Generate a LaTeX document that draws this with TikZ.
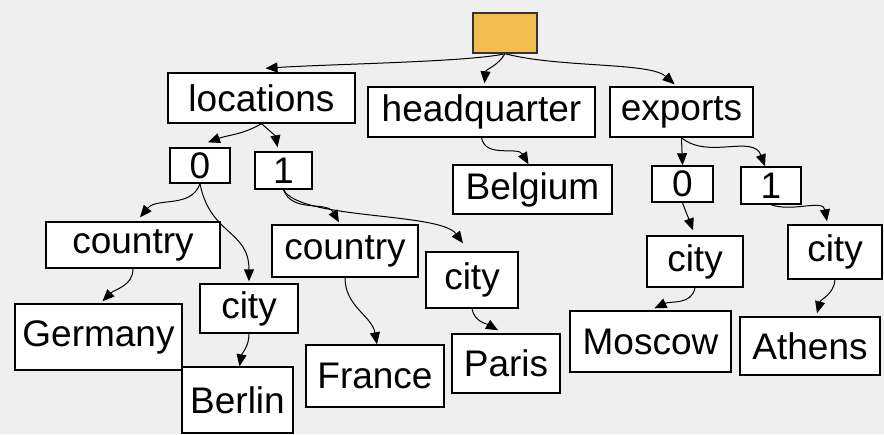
\documentclass[tikz,border=0pt]{standalone}
\usepackage{fontspec}
\setmainfont{Liberation Sans}
\usetikzlibrary{arrows.meta,backgrounds}
\definecolor{paper}{RGB}{240,239,239}
\definecolor{rootfill}{RGB}{242,189,78}
\tikzset{
  x=1pt, y=1pt,
  box/.style={draw=black, line width=1.4pt, fill=white, inner sep=0pt,
    font=\fontsize{37}{40}\selectfont},
  rootbox/.style={draw=black!80, line width=1.4pt, fill=rootfill, inner sep=0pt},
  link/.style={draw=black, line width=1pt, -{Triangle[length=12pt,width=10pt]}},
}
\newcommand{\bx}[6]{% name, x1, y1, x2, y2, text (image-style coordinates)
  \node[box, minimum width={#4-#2}, minimum height={#5-#3}]
    (#1) at ({(#2+#4)/2}, {-(#3+#5)/2}) {#6};}
\begin{document}
\begin{tikzpicture}
  \useasboundingbox (0,0) rectangle (884,-434);
  % root object
  \node[rootbox, minimum width=64, minimum height=40] (root) at (505,-33) {};
  % first level
  \bx{locations}{168}{73}{355}{123}{locations}
  \bx{hq}{368}{87}{595}{137}{headquarter}
  \bx{exports}{610}{87}{753}{137}{exports}
  % array indices
  \bx{lzero}{170}{148}{230}{183}{0}
  \bx{lone}{255}{152}{312}{189}{1}
  \bx{belgium}{453}{165}{612}{214}{Belgium}
  \bx{ezero}{652}{166}{713}{202}{0}
  \bx{eone}{741}{167}{801}{204}{1}
  % keys of the array entries
  \bx{countryA}{46}{222}{220}{268}{country}
  \bx{countryB}{272}{225}{418}{277}{country}
  \bx{cityB}{426}{252}{518}{308}{city}
  \bx{cityC}{647}{236}{743}{287}{city}
  \bx{cityD}{788}{225}{882}{279}{city}
  \bx{cityA}{200}{284}{298}{333}{city}
  % leaf values
  \bx{germany}{15}{304}{182}{370}{Germany}
  \bx{berlin}{182}{367}{293}{433}{Berlin}
  \bx{france}{306}{345}{444}{407}{France}
  \bx{paris}{452}{334}{560}{393}{Paris}
  \bx{moscow}{570}{311}{731}{372}{Moscow}
  \bx{athens}{740}{317}{880}{375}{Athens}
  \begin{scope}[on background layer]
    \fill[paper] (0,0) rectangle (884,-434);
    % root to its members
    \draw[link] (root.south) .. controls (470,-62) and (330,-64) .. ([xshift=4pt,yshift=4pt]locations.north);
    \draw[link] (root.south) to[out=240,in=85] ([xshift=3pt,yshift=3pt]hq.north);
    \draw[link] (root.south) .. controls (560,-68) and (650,-62) .. ([xshift=-7pt,yshift=2pt]exports.north);
    % locations array
    \draw[link] (locations.south) to[out=210,in=20] ([xshift=8pt,yshift=5pt]lzero.north);
    \draw[link] (locations.south) to[out=-40,in=100] ([xshift=-6pt,yshift=4pt]lone.north);
    % headquarter
    \draw[link] (hq.south) to[out=-80,in=120] ([xshift=-4pt]belgium.north);
    % exports array
    \draw[link] (exports.south) -- (ezero.north);
    \draw[link] (exports.south) to[out=-40,in=110] ([xshift=-6pt]eone.north);
    % first location
    \draw[link] (lzero.south) to[out=-110,in=50] ([xshift=7pt,yshift=4pt]countryA.north);
    \draw[link] (lzero.south) .. controls (210,-235) and (249,-230) .. ([yshift=2pt]cityA.north);
    \draw[link] (countryA.south) to[out=-90,in=45] ([xshift=4pt,yshift=2pt]germany.north);
    \draw[link] (cityA.south) to[out=-90,in=80] ([xshift=2pt]berlin.north);
    % second location
    \draw[link] (lone.south) to[out=-70,in=120] ([xshift=-6pt,yshift=2pt]countryB.north);
    \draw[link] (lone.south) .. controls (300,-220) and (440,-212) .. ([xshift=-9pt,yshift=8pt]cityB.north);
    \draw[link] (countryB.south) to[out=-90,in=100] ([xshift=2pt]france.north);
    \draw[link] (cityB.south) to[out=-80,in=150] ([xshift=-8pt,yshift=3pt]paris.north);
    % exported cities
    \draw[link] (ezero.south) to[out=-70,in=110] ([xshift=-2pt,yshift=5pt]cityC.north);
    \draw[link] (eone.south) to[out=-20,in=100] ([xshift=-8pt,yshift=3pt]cityD.north);
    \draw[link] (cityC.south) to[out=-100,in=25] ([xshift=4pt,yshift=2pt]moscow.north);
    \draw[link] (cityD.south) to[out=-95,in=75] ([xshift=7pt,yshift=3pt]athens.north);
  \end{scope}
\end{tikzpicture}
\end{document}
